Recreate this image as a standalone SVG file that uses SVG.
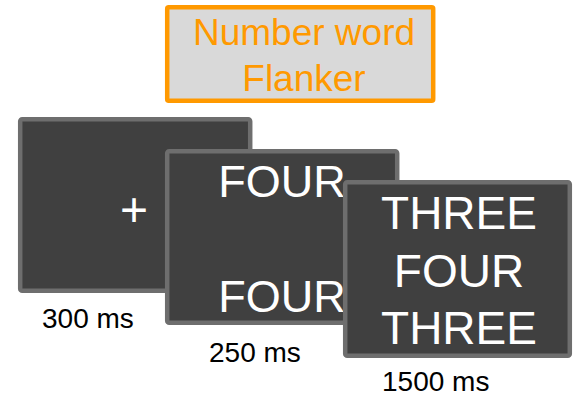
<svg xmlns="http://www.w3.org/2000/svg" width="573" height="397" viewBox="0 0 573 397">
  <style>
    .screen { fill: #404040; stroke: #6e6e6e; stroke-width: 4.5; }
    .stim { font-family: "Liberation Sans", Arial, sans-serif; fill: #ffffff; text-anchor: middle; }
    .dur { font-family: "Liberation Sans", Arial, sans-serif; font-size: 28px; fill: #000000; }
    .title { font-family: "Liberation Sans", Arial, sans-serif; font-size: 37px; fill: #ff9900; text-anchor: middle; }
  </style>
  <rect width="573" height="397" fill="#ffffff"/>

  <!-- task name -->
  <g id="title">
    <rect x="167.2" y="7.2" width="266" height="93.6" fill="#d9d9d9" stroke="#ff9900" stroke-width="4.5" rx="1.5"/>
    <text class="title" x="304" y="45">Number word</text>
    <text class="title" x="304" y="91">Flanker</text>
  </g>

  <!-- fixation screen -->
  <g id="fixation">
    <rect class="screen" x="20.2" y="119.2" width="230" height="171.6" rx="2"/>
    <text class="stim" x="134" y="226" font-size="48">+</text>
  </g>

  <!-- flanker preview screen -->
  <g id="flankers">
    <rect class="screen" x="167.2" y="151.2" width="230" height="171.6" rx="2"/>
    <text class="stim" x="282" y="197" font-size="45">FOUR</text>
    <text class="stim" x="282" y="312" font-size="45">FOUR</text>
  </g>

  <!-- target screen -->
  <g id="target">
    <rect class="screen" x="345.2" y="182.2" width="224.6" height="173.6" rx="2"/>
    <text class="stim" x="459" y="229" font-size="46">THREE</text>
    <text class="stim" x="459" y="287" font-size="46">FOUR</text>
    <text class="stim" x="459" y="344" font-size="46">THREE</text>
  </g>

  <!-- durations -->
  <g id="durations">
    <text class="dur" x="42" y="328" font-size="28.5">300 ms</text>
    <text class="dur" x="209" y="362">250 ms</text>
    <text class="dur" x="382" y="391">1500 ms</text>
  </g>
</svg>
